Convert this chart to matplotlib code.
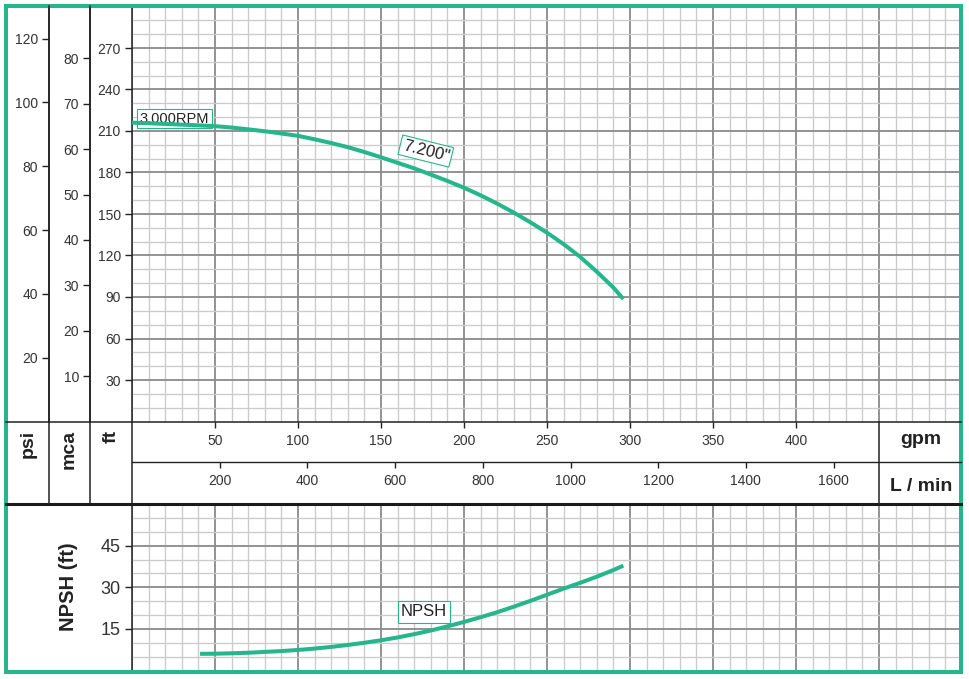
import numpy as np
import matplotlib
matplotlib.use("Agg")
import matplotlib.pyplot as plt
from matplotlib.patches import Rectangle

plt.rcParams['font.family'] = ['Liberation Sans', 'DejaVu Sans']

# values (3000 RPM, 7.200" impeller)
head_gpm = [0, 10, 20, 30, 40, 50, 60, 70, 80, 90, 100, 110, 120, 130, 140, 150,
            160, 170, 180, 190, 200, 210, 220, 230, 240, 250, 260, 270, 280, 290, 296]
head_ft = [216, 215.6, 215.1, 214.6, 214.1, 213.5, 212.5, 211.2, 209.8, 208.2, 206.5,
           204, 201.3, 198.3, 194.8, 191, 187, 183, 178.5, 173.9, 169, 163.5, 157.5,
           151, 144, 136.5, 128.2, 119, 108.3, 96.8, 88.5]
npsh_gpm = [41, 50, 60, 70, 80, 90, 100, 110, 120, 130, 140, 150, 160, 170, 180,
            190, 200, 210, 220, 230, 240, 250, 260, 270, 280, 290, 296]
npsh_ft = [6.0, 6.05, 6.2, 6.4, 6.7, 7.0, 7.4, 7.9, 8.5, 9.2, 10.0, 10.9, 11.9, 13.1,
           14.4, 15.9, 17.5, 19.2, 21.0, 23.0, 25.1, 27.3, 29.5, 31.6, 33.8, 36.2, 37.8]

gpm_ticks = [50, 100, 150, 200, 250, 300, 350, 400]
lpm_ticks = [200, 400, 600, 800, 1000, 1200, 1400, 1600]
ft_ticks = [30, 60, 90, 120, 150, 180, 210, 240, 270]
psi_ticks = [20, 40, 60, 80, 100, 120]
mca_ticks = [10, 20, 30, 40, 50, 60, 70, 80]
npsh_ticks = [15, 30, 45]

FT_PER_PSI = 2.307
FT_PER_M = 3.281
LPM_PER_GPM = 3.78541

GREEN = '#25b78b'
MAJOR = '#8a8a8a'
MINOR = '#cbcbcb'
TXT = '#333333'
DARK = '#222222'

# layout in pixels
W, H = 969, 679
X0, X1 = 132, 962
Y_TOP, Y_HEAD, Y_MID, Y_NP, Y_BOT = 6.5, 421.5, 462, 504, 670.5
X_PSI, X_MCA = 49, 90


def rect(x0, y0, x1, y1):
    return [x0 / W, 1 - y1 / H, (x1 - x0) / W, (y1 - y0) / H]


fig = plt.figure(figsize=(W / 100, H / 100), dpi=100)

# ---- head curve
ax = fig.add_axes(rect(X0, Y_TOP, X1, Y_HEAD))
ax.set_xlim(0, 500)
ax.set_ylim(0, 300)
ax.set_xticks(np.arange(0, 501, 50))
ax.set_xticks([v for v in range(0, 501, 10) if v % 50], minor=True)
ax.set_yticks(ft_ticks)
ax.set_yticks([v for v in range(0, 301, 10) if v % 30], minor=True)
ax.tick_params(axis='x', which='both', length=0, labelbottom=False)
ax.tick_params(axis='y', which='major', length=5, width=1, pad=3, labelsize=10,
               labelcolor=TXT, color=DARK)
ax.tick_params(axis='y', which='minor', length=0)
ax.grid(which='major', color=MAJOR, lw=1.3)
ax.grid(which='minor', color=MINOR, lw=0.95)
ax.set_axisbelow(True)
for s in ['top', 'right', 'bottom']:
    ax.spines[s].set_visible(False)
ax.spines['left'].set_linewidth(1.1)
ax.spines['left'].set_color(DARK)
ax.plot(head_gpm, head_ft, color=GREEN, lw=2.9, solid_capstyle='butt',
        solid_joinstyle='round', zorder=3)

ax.text(4.5, 219, '3.000RPM', ha='left', va='center', fontsize=10.5, color=DARK, zorder=2.5,
        bbox=dict(boxstyle='square,pad=0.2', fc='white', ec=GREEN, lw=0.8))
ax.text(177, 195.5, '7.200"', ha='center', va='center', fontsize=12, color=DARK,
        rotation=-14, rotation_mode='anchor', zorder=4,
        bbox=dict(boxstyle='square,pad=0.15', fc='white', ec=GREEN, lw=0.8))

# psi and mca scales
for xpix, f, g, ticks in [(X_PSI, lambda v: v / FT_PER_PSI, lambda v: v * FT_PER_PSI, psi_ticks),
                          (X_MCA, lambda v: v / FT_PER_M, lambda v: v * FT_PER_M, mca_ticks)]:
    sec = ax.secondary_yaxis((xpix - X0) / (X1 - X0), functions=(f, g))
    sec.set_yticks(ticks)
    sec.tick_params(length=5, width=1, pad=3, labelsize=10, labelcolor=TXT, color=DARK)
    sec.spines['left'].set_linewidth(1.1)
    sec.spines['left'].set_color(DARK)

# ---- flow scales
axq = fig.add_axes(rect(X0, Y_HEAD, X1, Y_MID))
axq.set_xlim(0, 500)
axl = fig.add_axes(rect(X0, Y_MID, X1, Y_NP))
axl.set_xlim(0, 500 * LPM_PER_GPM)
for a, ticks in [(axq, gpm_ticks), (axl, lpm_ticks)]:
    a.set_xticks(ticks)
    a.set_yticks([])
    a.tick_params(axis='x', direction='in', top=True, bottom=False, labeltop=True,
                  labelbottom=False, length=4.5, width=1, pad=-19, labelsize=10,
                  labelcolor=TXT, color=DARK)
    for s in a.spines.values():
        s.set_visible(False)

# ---- NPSH
axn = fig.add_axes(rect(X0, Y_NP, X1, Y_BOT))
axn.set_xlim(0, 500)
axn.set_ylim(0, 60)
axn.set_xticks(np.arange(0, 501, 50))
axn.set_xticks([v for v in range(0, 501, 10) if v % 50], minor=True)
axn.set_yticks(npsh_ticks)
axn.set_yticks([v for v in range(0, 61, 5) if v % 15], minor=True)
axn.tick_params(axis='x', which='both', length=0, labelbottom=False)
axn.tick_params(axis='y', which='major', length=5, width=1, pad=3, labelsize=13,
                labelcolor=TXT, color=DARK)
axn.tick_params(axis='y', which='minor', length=0)
axn.grid(which='major', color=MAJOR, lw=1.3)
axn.grid(which='minor', color=MINOR, lw=0.95)
axn.set_axisbelow(True)
for s in ['top', 'right', 'bottom']:
    axn.spines[s].set_visible(False)
axn.spines['left'].set_linewidth(1.1)
axn.spines['left'].set_color(DARK)
axn.plot(npsh_gpm, npsh_ft, color=GREEN, lw=2.9, solid_capstyle='butt',
         solid_joinstyle='round', zorder=3)
axn.text(175.9, 21.1, 'NPSH', ha='center', va='center', fontsize=12, color=DARK, zorder=4,
         bbox=dict(boxstyle='square,pad=0.2', fc='white', ec=GREEN, lw=0.8))

# ---- frame lines and headings
ov = fig.add_axes([0, 0, 1, 1], zorder=5)
ov.set_xlim(0, W)
ov.set_ylim(H, 0)
ov.axis('off')
x450 = X0 + 450 * (X1 - X0) / 500
ov.plot([6, 961.5], [Y_HEAD, Y_HEAD], color=DARK, lw=1.1)
ov.plot([X0, 961.5], [Y_MID, Y_MID], color=DARK, lw=1.0)
ov.plot([6, 961.5], [Y_NP, Y_NP], color='#1a1a1a', lw=2.2)
for xv in [X_PSI, X_MCA]:
    ov.plot([xv, xv], [6, Y_NP], color=DARK, lw=1.1)
ov.plot([X0, X0], [Y_HEAD, Y_NP], color=DARK, lw=1.1)
ov.plot([x450, x450], [Y_HEAD, Y_NP], color=DARK, lw=1.1)
ov.add_patch(Rectangle((6, 6), 955.5, 666, fill=False, ec=GREEN, lw=2.9))

for xc, lab in [(28.5, 'psi'), (69.5, 'mca'), (111, 'ft')]:
    ov.text(xc, 430, lab, rotation=90, ha='center', va='top', fontsize=14,
            fontweight='bold', color=DARK)
ov.text(921, 444, 'gpm', ha='center', va='baseline', fontsize=14, fontweight='bold', color=DARK)
ov.text(921, 491, 'L / min', ha='center', va='baseline', fontsize=14, fontweight='bold', color=DARK)
ov.text(69, 587, 'NPSH (ft)', rotation=90, ha='center', va='center', fontsize=14.5,
        fontweight='bold', color=DARK)

fig.savefig('out.png', dpi=100)
